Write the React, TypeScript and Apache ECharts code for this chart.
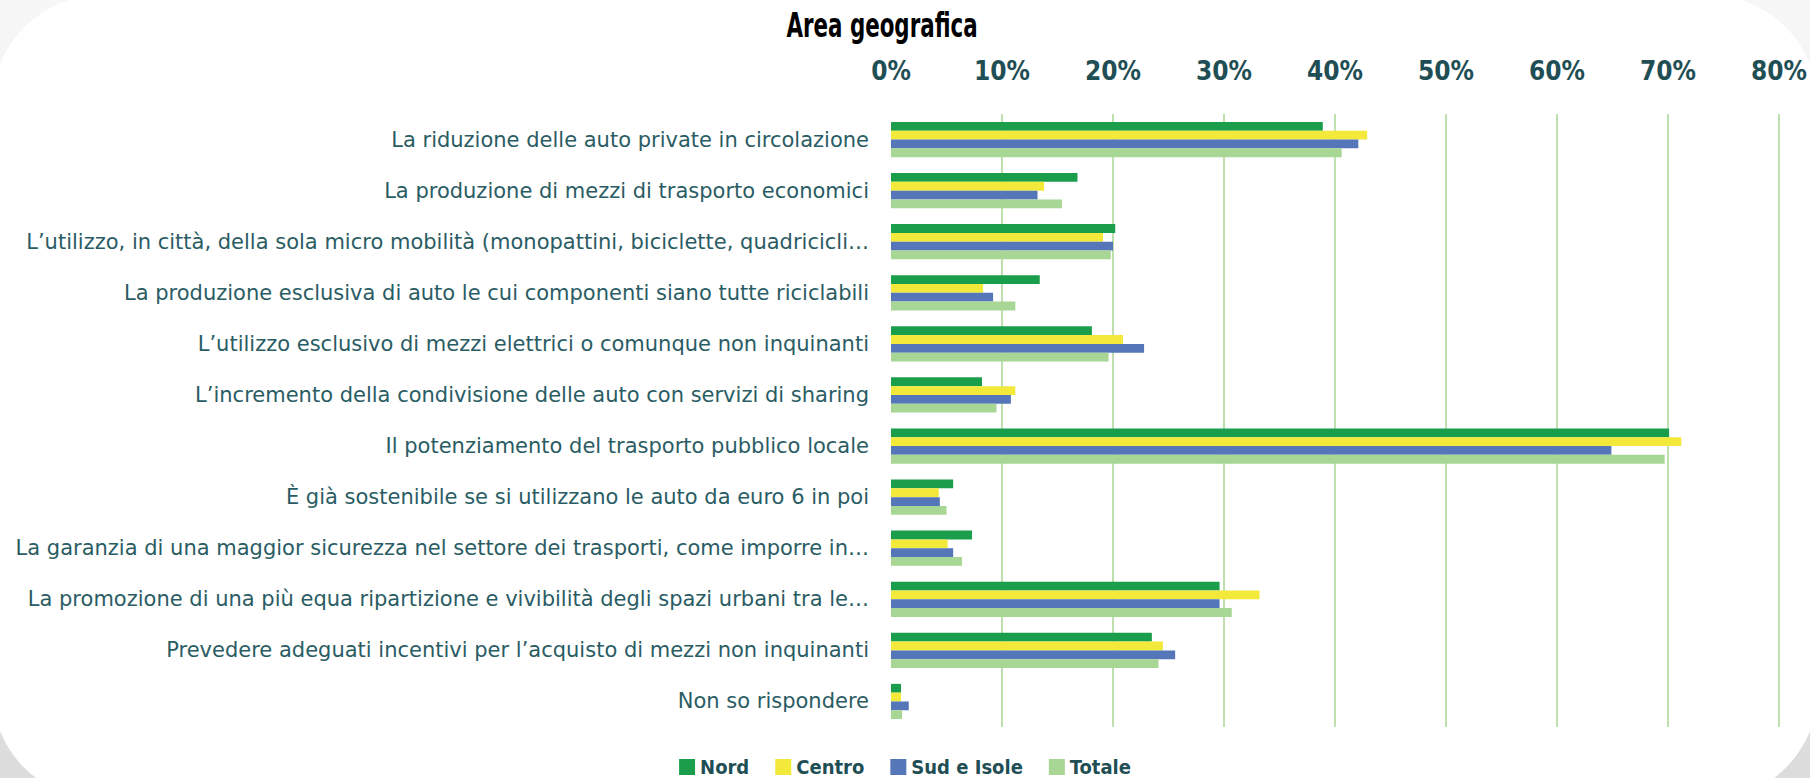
import React, { useEffect, useRef } from "react";
import * as echarts from "echarts";

const categories = [
  "La riduzione delle auto private in circolazione",
  "La produzione di mezzi di trasporto economici",
  "L’utilizzo, in città, della sola micro mobilità (monopattini, biciclette, quadricicli…",
  "La produzione esclusiva di auto le cui componenti siano tutte riciclabili",
  "L’utilizzo esclusivo di mezzi elettrici o comunque non inquinanti",
  "L’incremento della condivisione delle auto con servizi di sharing",
  "Il potenziamento del trasporto pubblico locale",
  "È già sostenibile se si utilizzano le auto da euro 6 in poi",
  "La garanzia di una maggior sicurezza nel settore dei trasporti, come imporre in…",
  "La promozione di una più equa ripartizione e vivibilità degli spazi urbani tra le…",
  "Prevedere adeguati incentivi per l’acquisto di mezzi non inquinanti",
  "Non so rispondere",
];

const nord = [38.9, 16.8, 20.2, 13.4, 18.1, 8.2, 70.1, 5.6, 7.3, 29.6, 23.5, 0.9];
const centro = [42.9, 13.8, 19.1, 8.3, 20.9, 11.2, 71.2, 4.3, 5.1, 33.2, 24.5, 0.9];
const sud = [42.1, 13.2, 20.0, 9.2, 22.8, 10.8, 64.9, 4.4, 5.6, 29.6, 25.6, 1.6];
const totale = [40.6, 15.4, 19.8, 11.2, 19.6, 9.5, 69.7, 5.0, 6.4, 30.7, 24.1, 1.0];

const seriesNames = ["Nord", "Centro", "Sud e Isole", "Totale"];
const seriesColors = ["#1b9e4b", "#f2e93b", "#5576b8", "#a8d695"];

const title = "Area geografica";

const condensed = "'DejaVu Sans Condensed', 'Liberation Sans Narrow', 'DejaVu Sans', sans-serif";
const teal = "#1f4e55";

export default function App() {
  const ref = useRef<HTMLDivElement>(null);
  useEffect(() => {
    if (!ref.current) return;
    const chart = echarts.init(ref.current, undefined, { renderer: "svg" });
    const data = [nord, centro, sud, totale];
    chart.setOption({
      animation: false,
      backgroundColor: {
        type: "linear",
        x: 0,
        y: 0,
        x2: 0,
        y2: 1,
        colorStops: [
          { offset: 0, color: "#f7f7f7" },
          { offset: 1, color: "#dcdcdc" },
        ],
      },
      graphic: [
        {
          type: "rect",
          z: -10,
          silent: true,
          shape: { x: -8, y: -5, width: 1826, height: 805, r: 110 },
          style: { fill: "#ffffff" },
        },
        {
          type: "text",
          x: 882,
          y: 26,
          scaleX: 0.72,
          silent: true,
          style: {
            text: title,
            fill: "#000000",
            font: `bold 33px ${condensed}`,
            textAlign: "center",
            textVerticalAlign: "middle",
          },
        },
      ],
      legend: {
        data: seriesNames,
        left: "center",
        top: 752,
        icon: "rect",
        itemWidth: 16,
        itemHeight: 16,
        itemGap: 26,
        textStyle: {
          color: teal,
          fontFamily: condensed,
          fontWeight: "bold",
          fontSize: 20,
          lineHeight: 20,
        },
      },
      grid: { left: 891, right: 30, top: 114, bottom: 51, containLabel: false },
      xAxis: {
        type: "value",
        position: "top",
        min: 0,
        max: 80,
        interval: 10,
        axisLine: { show: false },
        axisTick: { show: false },
        axisLabel: {
          formatter: "{value}%",
          color: teal,
          fontFamily: condensed,
          fontWeight: "bold",
          fontSize: 26,
          margin: 30,
        },
        splitLine: {
          show: true,
          lineStyle: {
            color: [
              "rgba(0,0,0,0)",
              "#a8d695",
              "#a8d695",
              "#a8d695",
              "#a8d695",
              "#a8d695",
              "#a8d695",
              "#a8d695",
              "#a8d695",
            ],
            width: 1.5,
          },
        },
      },
      yAxis: {
        type: "category",
        data: categories,
        inverse: true,
        axisLine: { show: false },
        axisTick: { show: false },
        axisLabel: {
          color: "#2a5c64",
          fontFamily: "'DejaVu Sans', sans-serif",
          fontSize: 21,
          margin: 22,
          width: 880,
          overflow: "truncate",
        },
      },
      series: seriesNames.map((name, i) => ({
        name,
        type: "bar",
        data: data[i],
        barGap: "0%",
        barCategoryGap: "31%",
        itemStyle: { color: seriesColors[i] },
      })),
    });
    return () => chart.dispose();
  }, []);
  return (
    <div
      ref={ref}
      style={{ position: "absolute", left: 0, top: 0, width: 1810, height: 778 }}
    />
  );
}
